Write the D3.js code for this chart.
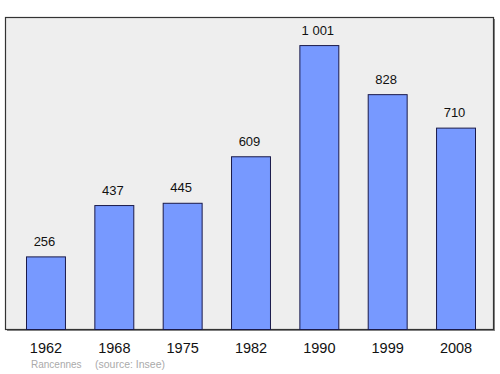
<!DOCTYPE html>
<html>
<head>
<meta charset="utf-8">
<script src="https://cdn.jsdelivr.net/npm/d3@7"></script>
<style>
  html, body { margin: 0; padding: 0; background: #fff; }
  svg { display: block; font-family: "Liberation Sans", Arial, sans-serif; }
</style>
</head>
<body>
<div id="chart"></div>
<script>
(() => {
  // ------- data -------
  const years = ["1962", "1968", "1975", "1982", "1990", "1999", "2008"];
  const population = [256, 437, 445, 609, 1001, 828, 710];
  const valueLabels = ["256", "437", "445", "609", "1 001", "828", "710"];
  const sourceLabels = ["Rancennes", "(source: Insee)"];

  const width = 500, height = 374;
  const frame = { left: 5.5, top: 17.5, right: 493.5, bottom: 329.5 };

  const svg = d3.select("#chart").append("svg")
    .attr("width", width)
    .attr("height", height);

  // plot frame with a little shadow on right / bottom
  svg.append("rect")
    .attr("x", frame.left + 1.5).attr("y", frame.top + 1.5)
    .attr("width", frame.right - frame.left).attr("height", frame.bottom - frame.top)
    .attr("fill", "#888");
  svg.append("rect")
    .attr("x", frame.left).attr("y", frame.top)
    .attr("width", frame.right - frame.left).attr("height", frame.bottom - frame.top)
    .attr("fill", "#eeeeee")
    .attr("stroke", "#333")
    .attr("stroke-width", 1.2);

  const x = d3.scaleBand()
    .domain(years)
    .range([26.5, 475.5])
    .paddingInner(0.43)
    .paddingOuter(0);

  const y = d3.scaleLinear()
    .domain([0, 1100])
    .range([frame.bottom, frame.top]);

  const rows = years.map((yr, i) => ({ yr, v: population[i], label: valueLabels[i] }));

  svg.append("g")
    .selectAll("rect")
    .data(rows)
    .enter()
    .append("rect")
    .attr("x", d => x(d.yr))
    .attr("y", d => y(d.v))
    .attr("width", x.bandwidth())
    .attr("height", d => y(0) - y(d.v))
    .attr("fill", "#7799ff")
    .attr("stroke", "#1a1a4a")
    .attr("stroke-width", 1);

  // value labels
  svg.append("g")
    .selectAll("text")
    .data(rows)
    .enter()
    .append("text")
    .attr("x", d => x(d.yr) + x.bandwidth() / 2 - 1.5)
    .attr("y", d => y(d.v) - 11)
    .attr("text-anchor", "middle")
    .attr("fill", "#111")
    .style("font-size", "13px")
    .text(d => d.label);

  // year axis labels
  const xAxis = d3.axisBottom(x).tickSize(0).tickPadding(0);
  svg.append("g")
    .attr("transform", `translate(0,${frame.bottom})`)
    .call(xAxis)
    .call(g => g.select(".domain").remove())
    .call(g => g.selectAll("text")
      .attr("dy", null)
      .attr("y", 23)
      .attr("fill", "#111")
      .style("font-family", "\"Liberation Sans\", Arial, sans-serif")
      .style("font-size", "14.5px"));

  // source line
  svg.append("text")
    .attr("x", 31).attr("y", 368)
    .attr("fill", "#aaa")
    .style("font-size", "10px")
    .text(sourceLabels[0]);
  svg.append("text")
    .attr("x", 95).attr("y", 368)
    .attr("fill", "#aaa")
    .style("font-size", "10.5px")
    .text(sourceLabels[1]);
})();
</script>
</body>
</html>
